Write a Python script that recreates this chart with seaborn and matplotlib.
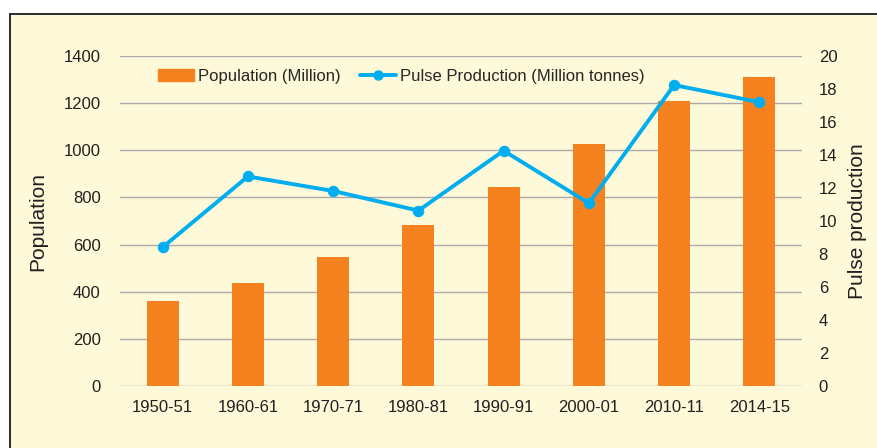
import numpy as np
import pandas as pd
import matplotlib
matplotlib.use('Agg')
import matplotlib.pyplot as plt
import matplotlib.patches as mpatches
from matplotlib.lines import Line2D
import seaborn as sns

# --- data ---
years = ['1950-51', '1960-61', '1970-71', '1980-81',
         '1990-91', '2000-01', '2010-11', '2014-15']
population = [361, 439, 548, 683, 846, 1028, 1210, 1311]          # million
pulse_production = [8.41, 12.70, 11.82, 10.63, 14.26, 11.08, 18.24, 17.2]  # million tonnes

df = pd.DataFrame({'Year': years,
                   'Population': population,
                   'Pulse': pulse_production,
                   'Pos': np.arange(len(years))})

orange = '#F5821F'
blue = '#00AEEF'
paper = '#FEF9D8'
ink = '#231F20'

sns.set_theme(style='white')
plt.rcParams['font.family'] = ['Liberation Sans', 'DejaVu Sans']

fig = plt.figure(figsize=(8.77, 4.48), dpi=100)
fig.patch.set_facecolor('white')

# yellow panel with dark border, running off the right/bottom edges
fig.patches.append(mpatches.Rectangle((10 / 877, -0.05), 1.2, 1 - 14 / 448 + 0.05,
                                      transform=fig.transFigure, facecolor=paper,
                                      edgecolor='#2b2b2b', linewidth=1.4, zorder=-10))

ax = fig.add_axes([120 / 877, 1 - 386 / 448, 682 / 877, 330 / 448])
ax.set_facecolor('none')

# --- bars: population ---
sns.barplot(data=df, x='Year', y='Population', color=orange, width=0.375,
            saturation=1, linewidth=0, edgecolor='none', ax=ax, zorder=2)
ax.set_ylim(0, 1400)
ax.set_yticks(range(0, 1401, 200))
ax.set_xlim(-0.5, 7.5)
ax.grid(axis='y', color='#ABABAB', linewidth=1.0, zorder=0)
ax.set_axisbelow(True)
for s in ax.spines.values():
    s.set_visible(False)
ax.tick_params(axis='y', length=0, pad=14, labelsize=12, labelcolor=ink)
ax.tick_params(axis='x', length=0, pad=10, labelsize=12, labelcolor=ink)
ax.set_xlabel('')
ax.set_ylabel('Population', fontsize=15, color=ink)
ax.yaxis.set_label_coords(-0.107, 0.5)

# --- line: pulse production ---
ax2 = ax.twinx()
ax2.set_facecolor('none')
sns.lineplot(data=df, x='Pos', y='Pulse', color=blue, linewidth=2.8,
             marker='o', markersize=7.5, markeredgecolor=blue, ax=ax2)
ax2.set_ylim(0, 20)
ax2.set_yticks(range(0, 21, 2))
ax2.set_xlim(-0.5, 7.5)
for s in ax2.spines.values():
    s.set_visible(False)
ax2.tick_params(axis='y', length=0, pad=12, labelsize=12, labelcolor=ink)
ax2.set_ylabel('Pulse production', fontsize=15, color=ink)
ax2.yaxis.set_label_coords(1.068, 0.5)
ax2.grid(False)

# --- legend ---
handles = [mpatches.Patch(color=orange, label='Population (Million)'),
           Line2D([0], [0], color=blue, linewidth=2.8, marker='o', markersize=6.5,
                  label='Pulse Production (Million tonnes)')]
ax2.legend(handles=handles, loc='center', bbox_to_anchor=(0.413, 0.939), ncol=2,
           frameon=False, fontsize=12, handlelength=2.15, columnspacing=1.15,
           handletextpad=0.25)

fig.savefig('out.png', dpi=100)
